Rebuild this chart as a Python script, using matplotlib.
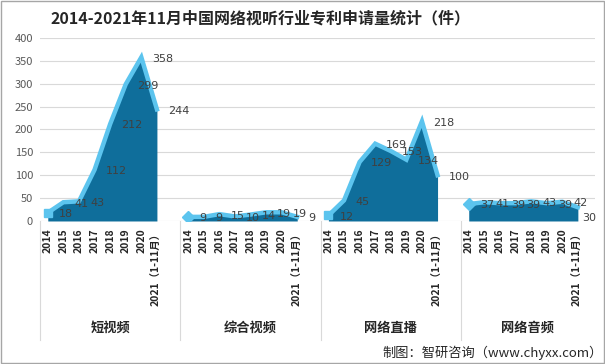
import numpy as np
import matplotlib.pyplot as plt
from matplotlib.patches import Rectangle

plt.rcParams['font.family'] = ['Noto Sans CJK SC', 'DejaVu Sans']

groups = ['短视频', '综合视频', '网络直播', '网络音频']
years = ['2014', '2015', '2016', '2017', '2018', '2019', '2020', '2021（1-11月）']
short_video = [18, 41, 43, 112, 212, 299, 358, 244]
general_video = [9, 9, 15, 10, 14, 19, 19, 9]
live_stream = [12, 45, 129, 169, 153, 134, 218, 100]
net_audio = [37, 41, 39, 39, 43, 39, 42, 30]
series = [short_video, general_video, live_stream, net_audio]

dark = '#0f6e9b'
light = '#5cc4ee'
markers = ['s', 'D', 's', 'D']

fig = plt.figure(figsize=(6.05, 3.64), dpi=100)
ax = fig.add_axes([0.0661, 0.3929, 0.9174, 0.5027])

step = len(years) + 1   # one blank slot after each group
nslots = step * len(groups) - 1
for g in range(len(groups)):
    x = np.arange(len(years)) + g * step
    v = series[g]
    ax.fill_between(x, 0, v, color=dark, lw=0, zorder=2)
    ax.plot(x, v, color=light, lw=3.2, zorder=3, solid_joinstyle='miter')
    ax.plot(x[0], v[0], marker=markers[g], color=light, ms=6, zorder=3)
    for i, (xi, vi) in enumerate(zip(x, v)):
        off = (8, -1)
        if g == len(groups) - 1 and i == len(years) - 1:
            off = (3, -8)   # keep the last label inside the chart
        ax.annotate(str(vi), (xi, vi), xytext=off, textcoords='offset points',
                    ha='left', va='center', fontsize=8, color='#404040',
                    family='DejaVu Sans', zorder=5)

ax.set_xlim(-0.5, nslots + 0.1)
ax.set_ylim(0, 400)
ax.set_yticks(range(0, 401, 50))
ax.set_xticks([])
ax.yaxis.grid(True, color='#d9d9d9', lw=0.8)
ax.set_axisbelow(True)
for s in ax.spines.values():
    s.set_visible(False)
ax.tick_params(axis='y', length=0, labelsize=8, labelcolor='#595959', pad=5)

tr = ax.get_xaxis_transform()
bounds = [-0.5 + g * step for g in range(len(groups))] + [nslots + 0.1]
for b in bounds[:-1]:
    ax.plot([b, b], [0, -0.65], transform=tr, color='#d9d9d9', lw=0.8, clip_on=False)

for g in range(len(groups)):
    for i, yr in enumerate(years):
        ax.text(g * step + i, -0.04, yr, transform=tr, rotation=90, ha='center',
                va='top', fontsize=7.5, fontweight='bold', color='#262626')
    cx = (bounds[g] + bounds[g + 1]) / 2
    ax.text(cx, -0.585, groups[g], transform=tr, ha='center', va='center',
            fontsize=9.5, fontweight='bold', color='#262626')

fig.text(0.43, 0.95, '2014-2021年11月中国网络视听行业专利申请量统计（件）',
         ha='center', va='center', fontsize=11.5, fontweight='bold', color='#262626')
fig.text(0.996, 0.03, '制图：智研咨询（www.chyxx.com）', ha='right', va='center',
         fontsize=9.5, color='#262626')

fig.patches.append(Rectangle((0.001, 0.002), 0.997, 0.995, transform=fig.transFigure,
                             fill=False, ec='#a6a6a6', lw=1))

fig.savefig('out.png', dpi=100)
